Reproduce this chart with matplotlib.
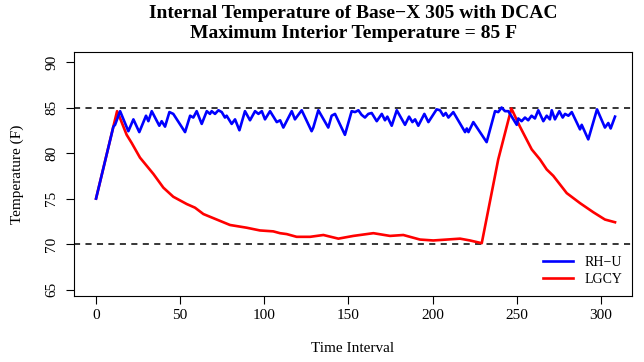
import matplotlib
matplotlib.use("Agg")
import matplotlib.pyplot as plt

# RH-U (blue) zigzag vertices
blue_x = [0, 10.3, 11.3, 14.3, 19.2, 22.2, 25.7, 29.7, 31.1, 33.1, 37.6, 39, 41, 43.6, 45.9,
          52.9, 55.9, 57.8, 59.8, 62.8, 65.8, 67.7, 68.7, 70.7, 72.7, 74.7, 76.6, 77.6, 80.6,
          82.6, 85.2, 88.5, 91.5, 94.5, 96.5, 98.5, 100.4, 103.4, 107.4, 109.4, 111.3, 116.3,
          118.2, 122.2, 128.1, 129.1, 132.1, 138.0, 140.0, 142.0, 147.9, 151.9, 153.9, 155.9,
          157.8, 159.8, 161.8, 163.8, 166.8, 169.8, 171.7, 173.1, 175.7, 178.7, 183.6, 186.0,
          188.0, 189.6, 191.5, 195.1, 197.5, 202.4, 204.4, 206.4, 207.8, 209.4, 212.3, 219.3,
          220.3, 221.3, 224.2, 232.1, 237.1, 239, 241, 243, 245, 250, 250.9, 252.9, 254.9,
          256.8, 258.8, 260.8, 262.8, 265.8, 267.8, 269.7, 270.8, 272.7, 275.3, 277.3, 278.7,
          280.7, 282.7, 287.6, 288.6, 292.5, 297.7, 302.4, 304.4, 305.8, 308.4]
blue_y = [75, 82.9, 83.1, 84.6, 82.4, 83.7, 82.3, 84.1, 83.5, 84.6, 83.0, 83.5, 82.9, 84.5, 84.3,
          82.3, 84.1, 83.9, 84.6, 83.2, 84.6, 84.3, 84.6, 84.3, 84.7, 84.5, 83.9, 84.1, 83.2,
          83.7, 82.5, 84.6, 83.6, 84.6, 84.3, 84.6, 83.7, 84.6, 83.4, 83.6, 82.8, 84.6,
          83.7, 84.7, 82.4, 82.8, 84.7, 82.8, 84.1, 84.3, 82.0, 84.6, 84.5, 84.7,
          84.2, 83.9, 84.3, 84.4, 83.5, 84.3, 83.6, 84.0, 83.0, 84.7, 83.1, 84.0,
          83.4, 83.7, 83.0, 84.3, 83.4, 84.8, 84.7, 84.1, 84.4, 83.9, 84.5, 82.3,
          82.7, 82.3, 83.4, 81.2, 84.6, 84.5, 85.0, 84.6, 84.6, 83.1, 83.8, 83.5, 83.9,
          83.6, 84.1, 83.8, 84.7, 83.5, 84.1, 83.7, 84.7, 83.7, 84.6, 83.9, 84.3,
          84.1, 84.5, 82.6, 83.1, 81.5, 84.8, 82.8, 83.3, 82.7, 84.0]

# LGCY (red) curve
red_x = [0, 12.5, 13.9, 18.2, 21.2, 26.1, 30.1, 34.1, 40, 45.9, 53.9, 58.8, 63.8, 71.7, 79.6,
         89.5, 97.4, 105.3, 109.3, 113.3, 119.2, 127.2, 135.1, 144, 152.9, 164.8, 174.7, 182.6,
         192.5, 200.4, 208.4, 216.3, 222.2, 229.2, 239, 246.8, 251.9, 258.9, 263.8, 267.8,
         271.7, 279.7, 287.6, 295.5, 302.4, 308.4]
red_y = [75, 84.6, 84.0, 82.0, 81.1, 79.5, 78.6, 77.7, 76.2, 75.2, 74.4, 74.0, 73.3, 72.7, 72.1,
         71.8, 71.5, 71.4, 71.2, 71.1, 70.8, 70.8, 71.0, 70.6, 70.9, 71.2, 70.9, 71.0,
         70.5, 70.4, 70.5, 70.6, 70.4, 70.1, 79.3, 84.9, 82.9, 80.4, 79.3, 78.2,
         77.5, 75.6, 74.5, 73.5, 72.7, 72.4]

limits = [85, 70]
x_ticks = [0, 50, 100, 150, 200, 250, 300]
y_ticks = [65, 70, 75, 80, 85, 90]

plt.rcParams['font.family'] = ['Liberation Serif', 'DejaVu Serif']
plt.rcParams['font.size'] = 11

fig = plt.figure(figsize=(6.44, 3.62), dpi=100)
ax = fig.add_axes([0.1149, 0.1823, 0.8665, 0.6741])

ax.plot(red_x, red_y, color='#ff0000', lw=1.9, label='LGCY', zorder=2)
ax.plot(blue_x, blue_y, color='#0000ff', lw=1.9, label='RH\u2212U', zorder=3)
for v in limits:
    ax.axhline(v, color='black', lw=1.1, ls=(0, (4, 3.5)), zorder=1)

ax.set_xlim(-13.1, 318.5)
ax.set_ylim(64.3, 91.1)
ax.set_xticks(x_ticks)
ax.set_yticks(y_ticks)
ax.tick_params(direction='out', length=5.5, width=0.8, labelsize=11)
ax.tick_params(axis='y', pad=6)
for lab in ax.get_yticklabels():
    lab.set_rotation(90)
    lab.set_va('center')

ax.set_xlabel('Time Interval', fontsize=11, labelpad=15)
ax.set_ylabel('Temperature (F)', fontsize=11, labelpad=15)
ax.set_title('Internal Temperature of Base\u2212X 305 with DCAC\nMaximum Interior Temperature = 85 F',
             fontsize=14, fontweight='bold', pad=10, linespacing=1.25)

h, l = ax.get_legend_handles_labels()
ax.legend(h[::-1], l[::-1], loc='lower right', frameon=False, fontsize=10,
          handlelength=2.2, borderaxespad=0.3, labelspacing=0.3)

fig.savefig('out.png', dpi=100)
